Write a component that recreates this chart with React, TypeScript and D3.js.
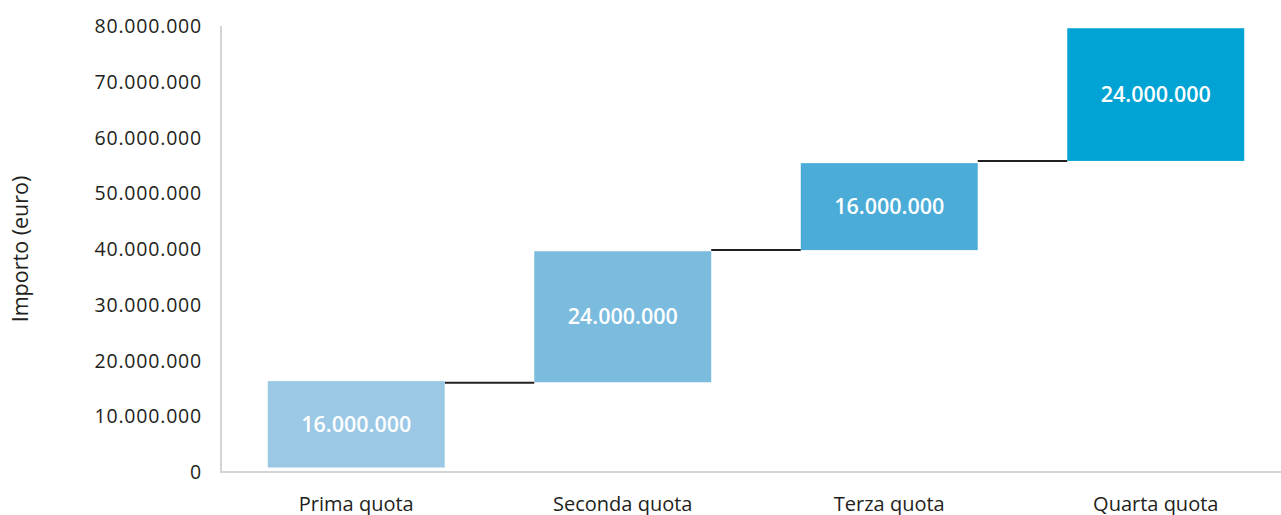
import React from "react";
import * as d3 from "d3";

const categories = ["Prima quota", "Seconda quota", "Terza quota", "Quarta quota"];
// bar extents (millions of euro)
const barStarts = [0.8, 16.1, 39.8, 55.8];
const barEnds = [16.3, 39.6, 55.4, 79.6];
const barLabels = ["16.000.000", "24.000.000", "16.000.000", "24.000.000"];
const connectorLevels = [16.0, 39.8, 55.8];
const barColors = ["#9BC9E5", "#7BBBDE", "#4AACD7", "#00A3D3"];
const yTicks = [0, 10, 20, 30, 40, 50, 60, 70, 80];
const yTickLabels = ["0", "10.000.000", "20.000.000", "30.000.000", "40.000.000", "50.000.000", "60.000.000", "70.000.000", "80.000.000"];

const W = 1281;
const H = 515;
const FONT = "'Open Sans', 'Noto Sans', sans-serif";

export default function App() {
  const y = d3.scaleLinear().domain([0, 80]).range([472, 26]);
  const x = d3.scaleBand<string>().domain(categories).range([223, 1289]).paddingInner(0.336).paddingOuter(0.168);
  const bw = x.bandwidth();

  return (
    <svg width={W} height={H} style={{ position: "absolute", left: 0, top: 0, display: "block" }}>
      <rect x={0} y={0} width={W} height={H} fill="#ffffff" />
      {/* axes */}
      <line x1={221} x2={221} y1={y(80)} y2={y(0)} stroke="#d4d4d4" strokeWidth={2} />
      <line x1={220} x2={W} y1={y(0)} y2={y(0)} stroke="#d4d4d4" strokeWidth={2} />
      {yTicks.map((t, i) => (
        <text key={t} x={202} y={y(t)} dy="0.36em" textAnchor="end" fontFamily={FONT} fontSize={19.5} letterSpacing={0.8} fill="#231f20">
          {yTickLabels[i]}
        </text>
      ))}
      <text
        transform={`translate(20,${(y(0) + y(80)) / 2}) rotate(-90)`}
        textAnchor="middle"
        dy="0.35em"
        fontFamily={FONT}
        fontSize={21.5}
        fill="#231f20"
      >
        Importo (euro)
      </text>
      {/* connectors */}
      {connectorLevels.map((v, i) => (
        <line
          key={i}
          x1={(x(categories[i]) as number) + bw}
          x2={x(categories[i + 1]) as number}
          y1={y(v)}
          y2={y(v)}
          stroke="#231f20"
          strokeWidth={2}
        />
      ))}
      {/* bars */}
      {categories.map((c, i) => {
        const x0 = x(c) as number;
        const yTop = y(barEnds[i]);
        const yBot = y(barStarts[i]);
        return (
          <g key={c}>
            <rect x={x0} y={yTop} width={bw} height={yBot - yTop} fill={barColors[i]} />
            <text
              x={x0 + bw / 2}
              y={(yTop + yBot) / 2}
              dy="0.36em"
              textAnchor="middle"
              fontFamily={FONT}
              fontWeight={600}
              fontSize={21.5}
              fill="#ffffff"
            >
              {barLabels[i]}
            </text>
            <text
              x={x0 + bw / 2}
              y={504}
              dy="0.36em"
              textAnchor="middle"
              fontFamily={FONT}
              fontSize={20}
              fill="#231f20"
            >
              {c}
            </text>
          </g>
        );
      })}
    </svg>
  );
}
